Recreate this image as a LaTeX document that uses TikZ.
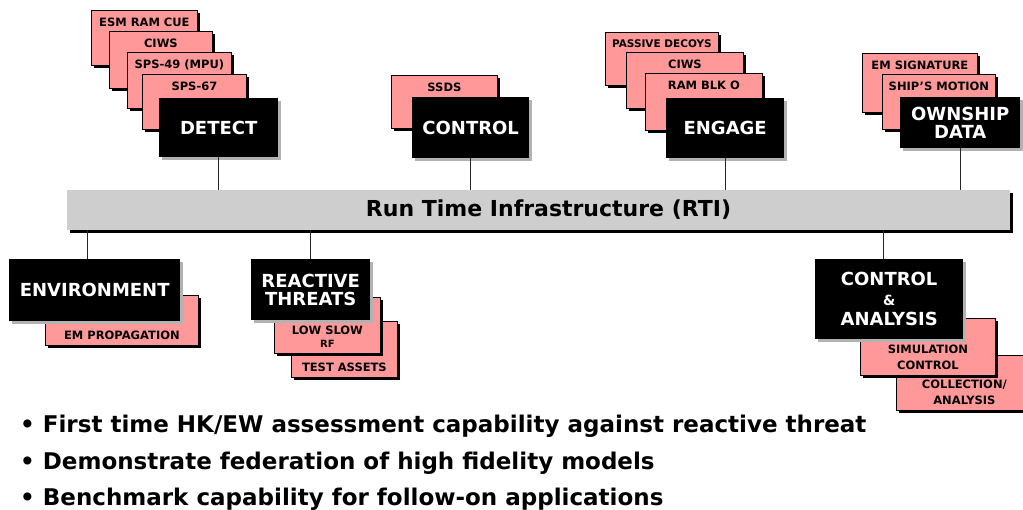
\documentclass[tikz,border=0pt]{standalone}
\usepackage{fontspec}
\setmainfont{DejaVu Sans}
\usetikzlibrary{shadows, positioning}
\definecolor{cardpink}{RGB}{255,153,153}
\definecolor{railgray}{RGB}{206,206,206}

\begin{document}
\begin{tikzpicture}[x=1pt, y=-1pt,
	card/.style 2 args={draw=black, line width=0.8pt, fill=cardpink, anchor=north west,
		inner sep=0pt, minimum width=#1, minimum height=#2,
		drop shadow={shadow xshift=3pt, shadow yshift=-3pt, fill=black, opacity=1}},
	toptext/.style={anchor=north, inner sep=0pt, yshift=-8pt, align=center,
		font=\bfseries\fontsize{11.5}{14}\selectfont},
	bottext/.style={anchor=south, inner sep=0pt, yshift=6pt, align=center,
		font=\bfseries\fontsize{11.5}{16}\selectfont},
	task/.style 2 args={fill=black, text=white, anchor=north west, inner sep=0pt,
		minimum width=#1, minimum height=#2, align=center,
		font=\bfseries\fontsize{18}{18}\selectfont,
		drop shadow={shadow xshift=3pt, shadow yshift=-3pt, fill=gray!60, opacity=1}},
	rail/.style={fill=railgray, inner sep=0pt, minimum width=943pt, minimum height=40pt,
		drop shadow={shadow xshift=3pt, shadow yshift=-3pt, fill=black, opacity=1}},
	point/.style={anchor=base west, inner sep=0pt, font=\bfseries\fontsize{23}{26}\selectfont},
	link/.style={line width=1.3pt, black!85}]
	\useasboundingbox (0,0) rectangle (1023,510);

	\node[rail] (rti) at (538.5,210) {};
	\node[inner sep=0pt, font=\bfseries\fontsize{22}{24}\selectfont] (rtitext)
		at ([xshift=10pt]rti.center) {Run Time Infrastructure (RTI)};

	% detect
	\node[card={106pt}{55pt}, label={[toptext]north:ESM RAM CUE}] (esm) at (91,10) {};
	\node[card={103pt}{57pt}, label={[toptext]north:CIWS}] (ciwsa) at (109,31) {};
	\node[card={104pt}{56pt}, label={[toptext]north:SPS-49 (MPU)}] (spsa) at (127,52) {};
	\node[card={104pt}{55pt}, label={[toptext]north:SPS-67}] (spsb) at (142,74) {};
	\node[task={119pt}{59pt}] (detect) at (159,98) {DETECT};

	% control
	\node[card={106pt}{53pt}, label={[toptext]north:SSDS}] (ssds) at (391,75) {};
	\node[task={117pt}{61pt}] (control) at (412,97) {CONTROL};

	% engage
	\node[card={113pt}{53pt}, label={[toptext, font=\bfseries\fontsize{10.5}{12}\selectfont]north:PASSIVE DECOYS}] (decoys) at (605,32) {};
	\node[card={117pt}{56pt}, label={[toptext]north:CIWS}] (ciwsb) at (626,52) {};
	\node[card={117pt}{57pt}, label={[toptext]north:RAM BLK O}] (ramblk) at (645,73) {};
	\node[task={118pt}{60pt}] (engage) at (666,98) {ENGAGE};

	% ownship
	\node[card={115pt}{59pt}, label={[toptext]north:EM SIGNATURE}] (emsig) at (862,53) {};
	\node[card={113pt}{55pt}, label={[toptext]north:SHIP'S MOTION}] (motion) at (882,74) {};
	\node[task={120pt}{51pt}, text depth=-4pt] (ownship) at (900,97) {OWNSHIP\\DATA};

	% below the rti
	\node[card={153pt}{50pt}, label={[bottext]south:EM PROPAGATION}] (emprop) at (45,295) {};
	\node[task={171pt}{62pt}] (environment) at (9,259) {ENVIRONMENT};

	\node[card={106pt}{56pt}, label={[bottext]south:TEST ASSETS}] (assets) at (291,321) {};
	\node[card={106pt}{56pt}, label={[bottext]south:LOW SLOW\\[-3pt]{\fontsize{10}{11}\selectfont RF}}] (lowslow) at (274,297) {};
	\node[task={119pt}{61pt}] (reactive) at (251,259) {REACTIVE\\THREATS};

	\node[card={136pt}{55pt}, label={[bottext]south:COLLECTION/\\ANALYSIS}] (collect) at (896,355) {};
	\node[card={135pt}{57pt}, label={[bottext]south:SIMULATION\\CONTROL}] (simctrl) at (860,318) {};
	\node[task={148pt}{80pt}, font=\bfseries\fontsize{18}{20}\selectfont] (analysis) at (815,259)
		{CONTROL\\{\fontsize{14}{14}\selectfont\&}\\ANALYSIS};

	\draw[link] (detect.south) -- (detect.south |- rti.north);
	\draw[link] (control.south) -- (control.south |- rti.north);
	\draw[link] (engage.south) -- (engage.south |- rti.north);
	\draw[link] (ownship.south) -- (ownship.south |- rti.north);
	\draw[link] ([xshift=-7pt]environment.north) -- ([xshift=-7pt]environment.north |- rti.south);
	\draw[link] (reactive.north) -- (reactive.north |- rti.south);
	\draw[link] ([xshift=-6pt]analysis.north) -- ([xshift=-6pt]analysis.north |- rti.south);

	\node[point] (pointa) at (20,432) {• First time HK/EW assessment capability against reactive threat};
	\node[point] (pointb) at (20,469) {• Demonstrate federation of high fidelity models};
	\node[point] (pointc) at (20,505) {• Benchmark capability for follow-on applications};
\end{tikzpicture}
\end{document}
